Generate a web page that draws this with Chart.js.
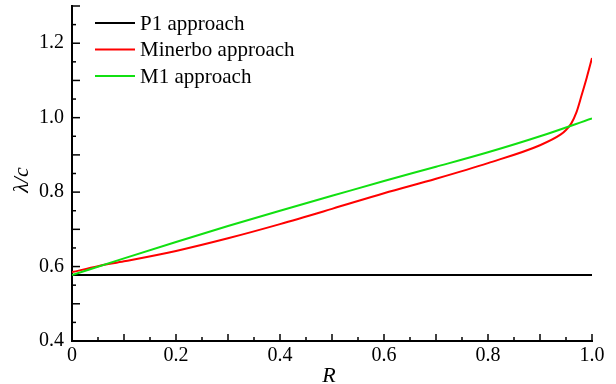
<!DOCTYPE html>
<html>
<head>
<meta charset="utf-8">
<script src="https://cdn.jsdelivr.net/npm/chart.js@4.4.1/dist/chart.umd.min.js"></script>
<style>
    html, body { margin: 0; padding: 0; background: #fff; }
    #wrap { width: 616px; height: 384px; }
</style>
</head>
<body>
<div id="wrap"><canvas id="myChart"></canvas></div>
<script>
// data
const p1R = [0, 1];
const p1Lambda = [0.577, 0.577];

const minerboR = [0, 0.05, 0.1, 0.2, 0.3, 0.4, 0.5, 0.6, 0.7, 0.8, 0.9, 0.94, 0.95, 0.96, 0.97, 0.98, 0.99, 1.0];
const minerboLambda = [0.585, 0.601, 0.614, 0.642, 0.676, 0.714, 0.755, 0.797, 0.836, 0.878, 0.926, 0.955, 0.967, 0.984, 1.014, 1.060, 1.108, 1.160];

const m1R = [0, 0.1, 0.2, 0.3, 0.4, 0.5, 0.6, 0.7, 0.8, 0.9, 1.0];
const m1Lambda = [0.577, 0.622, 0.666, 0.709, 0.750, 0.790, 0.830, 0.868, 0.907, 0.950, 0.998];

const seriesNames = ['P1 approach', 'Minerbo approach', 'M1 approach'];
const seriesColors = ['#000000', '#ff0000', '#11e011'];

const xLabels = [0, 0.2, 0.4, 0.6, 0.8, 1.0];
const yLabels = [0.4, 0.6, 0.8, 1.0, 1.2];

const serif = "'Liberation Serif', 'DejaVu Serif', serif";

function toPoints(xs, ys) {
    return xs.map((x, i) => ({ x: x, y: ys[i] }));
}

function onLabel(v, list) {
    return list.some(l => Math.abs(l - v) < 1e-6);
}

// inward tick marks, axis titles and the legend
const decorations = {
    id: 'decorations',
    afterDraw(chart) {
        const ctx = chart.ctx;
        const xs = chart.scales.x;
        const ys = chart.scales.y;
        const area = chart.chartArea;
        ctx.save();
        ctx.strokeStyle = '#000';
        ctx.lineWidth = 1.5;
        xs.ticks.forEach(t => {
            const px = xs.getPixelForValue(t.value);
            const major = Math.abs(Math.round(t.value * 10) - t.value * 10) < 1e-6;
            const len = major ? 7 : 4;
            ctx.beginPath();
            ctx.moveTo(px, area.bottom);
            ctx.lineTo(px, area.bottom - len);
            ctx.stroke();
        });
        ys.ticks.forEach(t => {
            const py = ys.getPixelForValue(t.value);
            const major = Math.abs(Math.round(t.value * 10) - t.value * 10) < 1e-6;
            const len = major ? 8 : 4;
            ctx.beginPath();
            ctx.moveTo(area.left, py);
            ctx.lineTo(area.left + len, py);
            ctx.stroke();
        });

        // axis titles
        ctx.fillStyle = '#000';
        ctx.font = 'italic 22px ' + serif;
        ctx.textAlign = 'center';
        ctx.textBaseline = 'middle';
        ctx.fillText('R', (area.left + area.right) / 2 - 3, 376);
        ctx.save();
        ctx.translate(22, 180);
        ctx.rotate(-Math.PI / 2);
        ctx.fillText('\u03bb/c', 0, 0);
        ctx.restore();

        // legend
        ctx.font = '21px ' + serif;
        ctx.textAlign = 'left';
        seriesNames.forEach((name, i) => {
            const y = 23 + i * 26.5;
            ctx.strokeStyle = seriesColors[i];
            ctx.lineWidth = 2;
            ctx.beginPath();
            ctx.moveTo(95, y);
            ctx.lineTo(135, y);
            ctx.stroke();
            ctx.fillStyle = '#000';
            ctx.fillText(name, 140, y + 1);
        });
        ctx.restore();
    }
};

const ctx = document.getElementById('myChart');
const chart = new Chart(ctx, {
    type: 'line',
    data: {
        datasets: [
            {
                label: seriesNames[0],
                data: toPoints(p1R, p1Lambda),
                borderColor: seriesColors[0],
                borderWidth: 2,
                pointRadius: 0,
                fill: false,
                order: 3,
            },
            {
                label: seriesNames[1],
                data: toPoints(minerboR, minerboLambda),
                borderColor: seriesColors[1],
                borderWidth: 2,
                pointRadius: 0,
                fill: false,
                cubicInterpolationMode: 'monotone',
                order: 2,
            },
            {
                label: seriesNames[2],
                data: toPoints(m1R, m1Lambda),
                borderColor: seriesColors[2],
                borderWidth: 2,
                pointRadius: 0,
                fill: false,
                cubicInterpolationMode: 'monotone',
                order: 1,
            },
        ]
    },
    options: {
        responsive: true,
        maintainAspectRatio: false,
        animation: false,
        layout: { padding: { left: 0, right: 24, top: 6, bottom: 0 } },
        plugins: {
            legend: { display: false },
            tooltip: { enabled: false }
        },
        scales: {
            x: {
                type: 'linear',
                min: 0,
                max: 1,
                grid: { display: false },
                border: { display: true, color: '#000', width: 2 },
                afterFit: (scale) => {
                    scale.height = 43;
                    scale.paddingLeft = 0;
                    scale.paddingRight = 0;
                },
                ticks: {
                    stepSize: 0.05,
                    autoSkip: false,
                    maxRotation: 0,
                    padding: -5,
                    color: '#000',
                    font: { family: serif, size: 20 },
                    callback: (v) => onLabel(v, xLabels) ? (v === 0 ? '0' : v.toFixed(1)) : ''
                }
            },
            y: {
                min: 0.4,
                max: 1.3,
                grid: { display: false },
                border: { display: true, color: '#000', width: 2 },
                afterFit: (scale) => {
                    scale.width = 72;
                    scale.paddingTop = 0;
                    scale.paddingBottom = 0;
                },
                ticks: {
                    stepSize: 0.05,
                    autoSkip: false,
                    padding: 0,
                    color: '#000',
                    font: { family: serif, size: 20 },
                    callback: (v) => onLabel(v, yLabels) ? v.toFixed(1) : ''
                }
            }
        }
    },
    plugins: [decorations]
});
</script>
</body>
</html>
